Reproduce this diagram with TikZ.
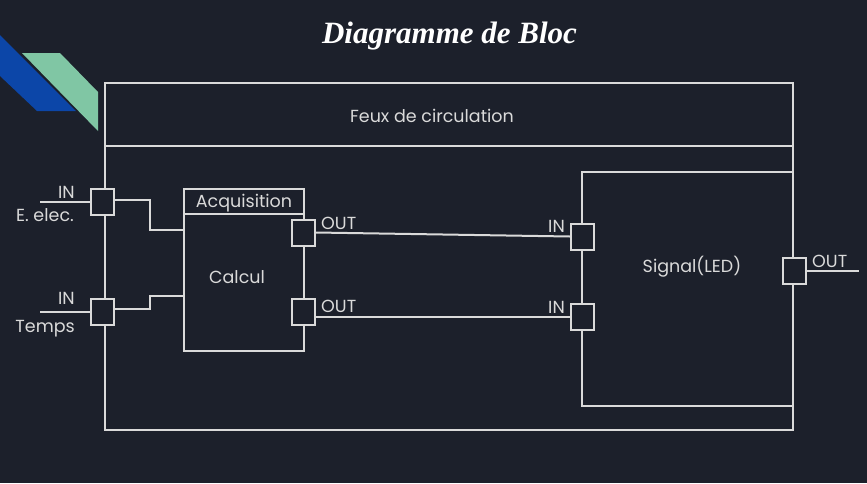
\documentclass[tikz,border=0pt]{standalone}
\usepackage{fontspec}
\setmainfont{Poppins}
\newfontfamily\titlefont{Liberation Serif}
\definecolor{bgc}{RGB}{28,32,43}
\definecolor{linec}{RGB}{218,218,218}
\definecolor{decoblue}{RGB}{12,70,168}
\definecolor{decogreen}{RGB}{128,198,164}
\tikzset{
  box/.style={draw=linec, line width=2pt, fill=none, inner sep=0pt},
  port/.style={draw=linec, line width=2pt, fill=bgc, minimum width=23pt, minimum height=26pt, inner sep=0pt},
  wire/.style={draw=linec, line width=2pt},
  lbl/.style={text=linec, font=\fontsize{17.5}{20}\selectfont, inner sep=0pt, yshift=-1.5pt},
}
\begin{document}
\begin{tikzpicture}[x=1pt,y=-1pt]
\fill[bgc] (0,0) rectangle (867,483);
\useasboundingbox (0,0) rectangle (867,483);
% decoration
\fill[decoblue] (0,35) -- (76,111) -- (37,111) -- (0,76) -- cycle;
\fill[decogreen] (22,53) -- (60,53) -- (98,92) -- (98,131) -- cycle;
% title
\node[text=white, inner sep=0pt, font=\titlefont\bfseries\itshape\fontsize{31}{34}\selectfont] (title) at (449.5,36) {Diagramme de Bloc};
% main frame
\node[box, minimum width=688pt, minimum height=63pt] (hdr) at (449,114.5) {};
\node[lbl] (hdrtxt) at (432,114) {Feux de circulation};
\node[box, minimum width=688pt, minimum height=284pt] (frame) at (449,288) {};
% acquisition block
\node[box, minimum width=120pt, minimum height=137pt] (calc) at (244,282.5) {};
\node[box, minimum width=120pt, minimum height=25pt, text=linec, font=\fontsize{17.5}{20}\selectfont] (acq) at (244,201.5) {};
\node[lbl] (acqtxt) at (244,201.5) {Acquisition};
\node[lbl] (calctxt) at (237,276) {Calcul};
% signal block
\node[box, minimum width=211pt, minimum height=234pt] (sig) at (687.5,289) {};
\node[lbl] (sigtxt) at (692,265) {Signal(LED)};
% ports
\node[port] (pin1) at (102.5,202) {};
\node[port] (pin2) at (102.5,312) {};
\node[port] (aout1) at (303.5,232.5) {};
\node[port] (aout2) at (303.5,312) {};
\node[port] (sin1) at (582.5,236.5) {};
\node[port] (sin2) at (582.5,316.5) {};
\node[port] (sout) at (794,271) {};
% free ends
\coordinate (e1) at (40,202);
\coordinate (e2) at (40,312);
\coordinate (eo) at (859,271);
\coordinate (k1) at (150,230);
\coordinate (k2) at (150,296);
% wires
\draw[wire] (e1) -- (pin1.west);
\draw[wire] (e2) -- (pin2.west);
\draw[wire] ([yshift=2pt]pin1.east) -| (k1) -- (calc.west |- k1);
\draw[wire] ([yshift=3pt]pin2.east) -| (k2) -- (calc.west |- k2);
\draw[wire] (aout1.east) -- (sin1.west);
\draw[wire] (aout2.east |- sin2.west) -- (sin2.west);
\draw[wire] (sout.east) -- (eo);
% labels
\node[lbl, anchor=east] (lin1) at (75,191) {IN};
\node[lbl, anchor=east] (lee) at (74,214) {E. elec.};
\node[lbl, anchor=east] (lin2) at (75,297) {IN};
\node[lbl, anchor=east] (ltemps) at (75,327) {Temps};
\node[lbl, anchor=west] (lout1) at (321,222) {OUT};
\node[lbl, anchor=west] (lout2) at (321,305) {OUT};
\node[lbl, anchor=east] (lsin1) at (565,225) {IN};
\node[lbl, anchor=east] (lsin2) at (565,306) {IN};
\node[lbl, anchor=west] (lsout) at (812,260) {OUT};
\end{tikzpicture}
\end{document}
